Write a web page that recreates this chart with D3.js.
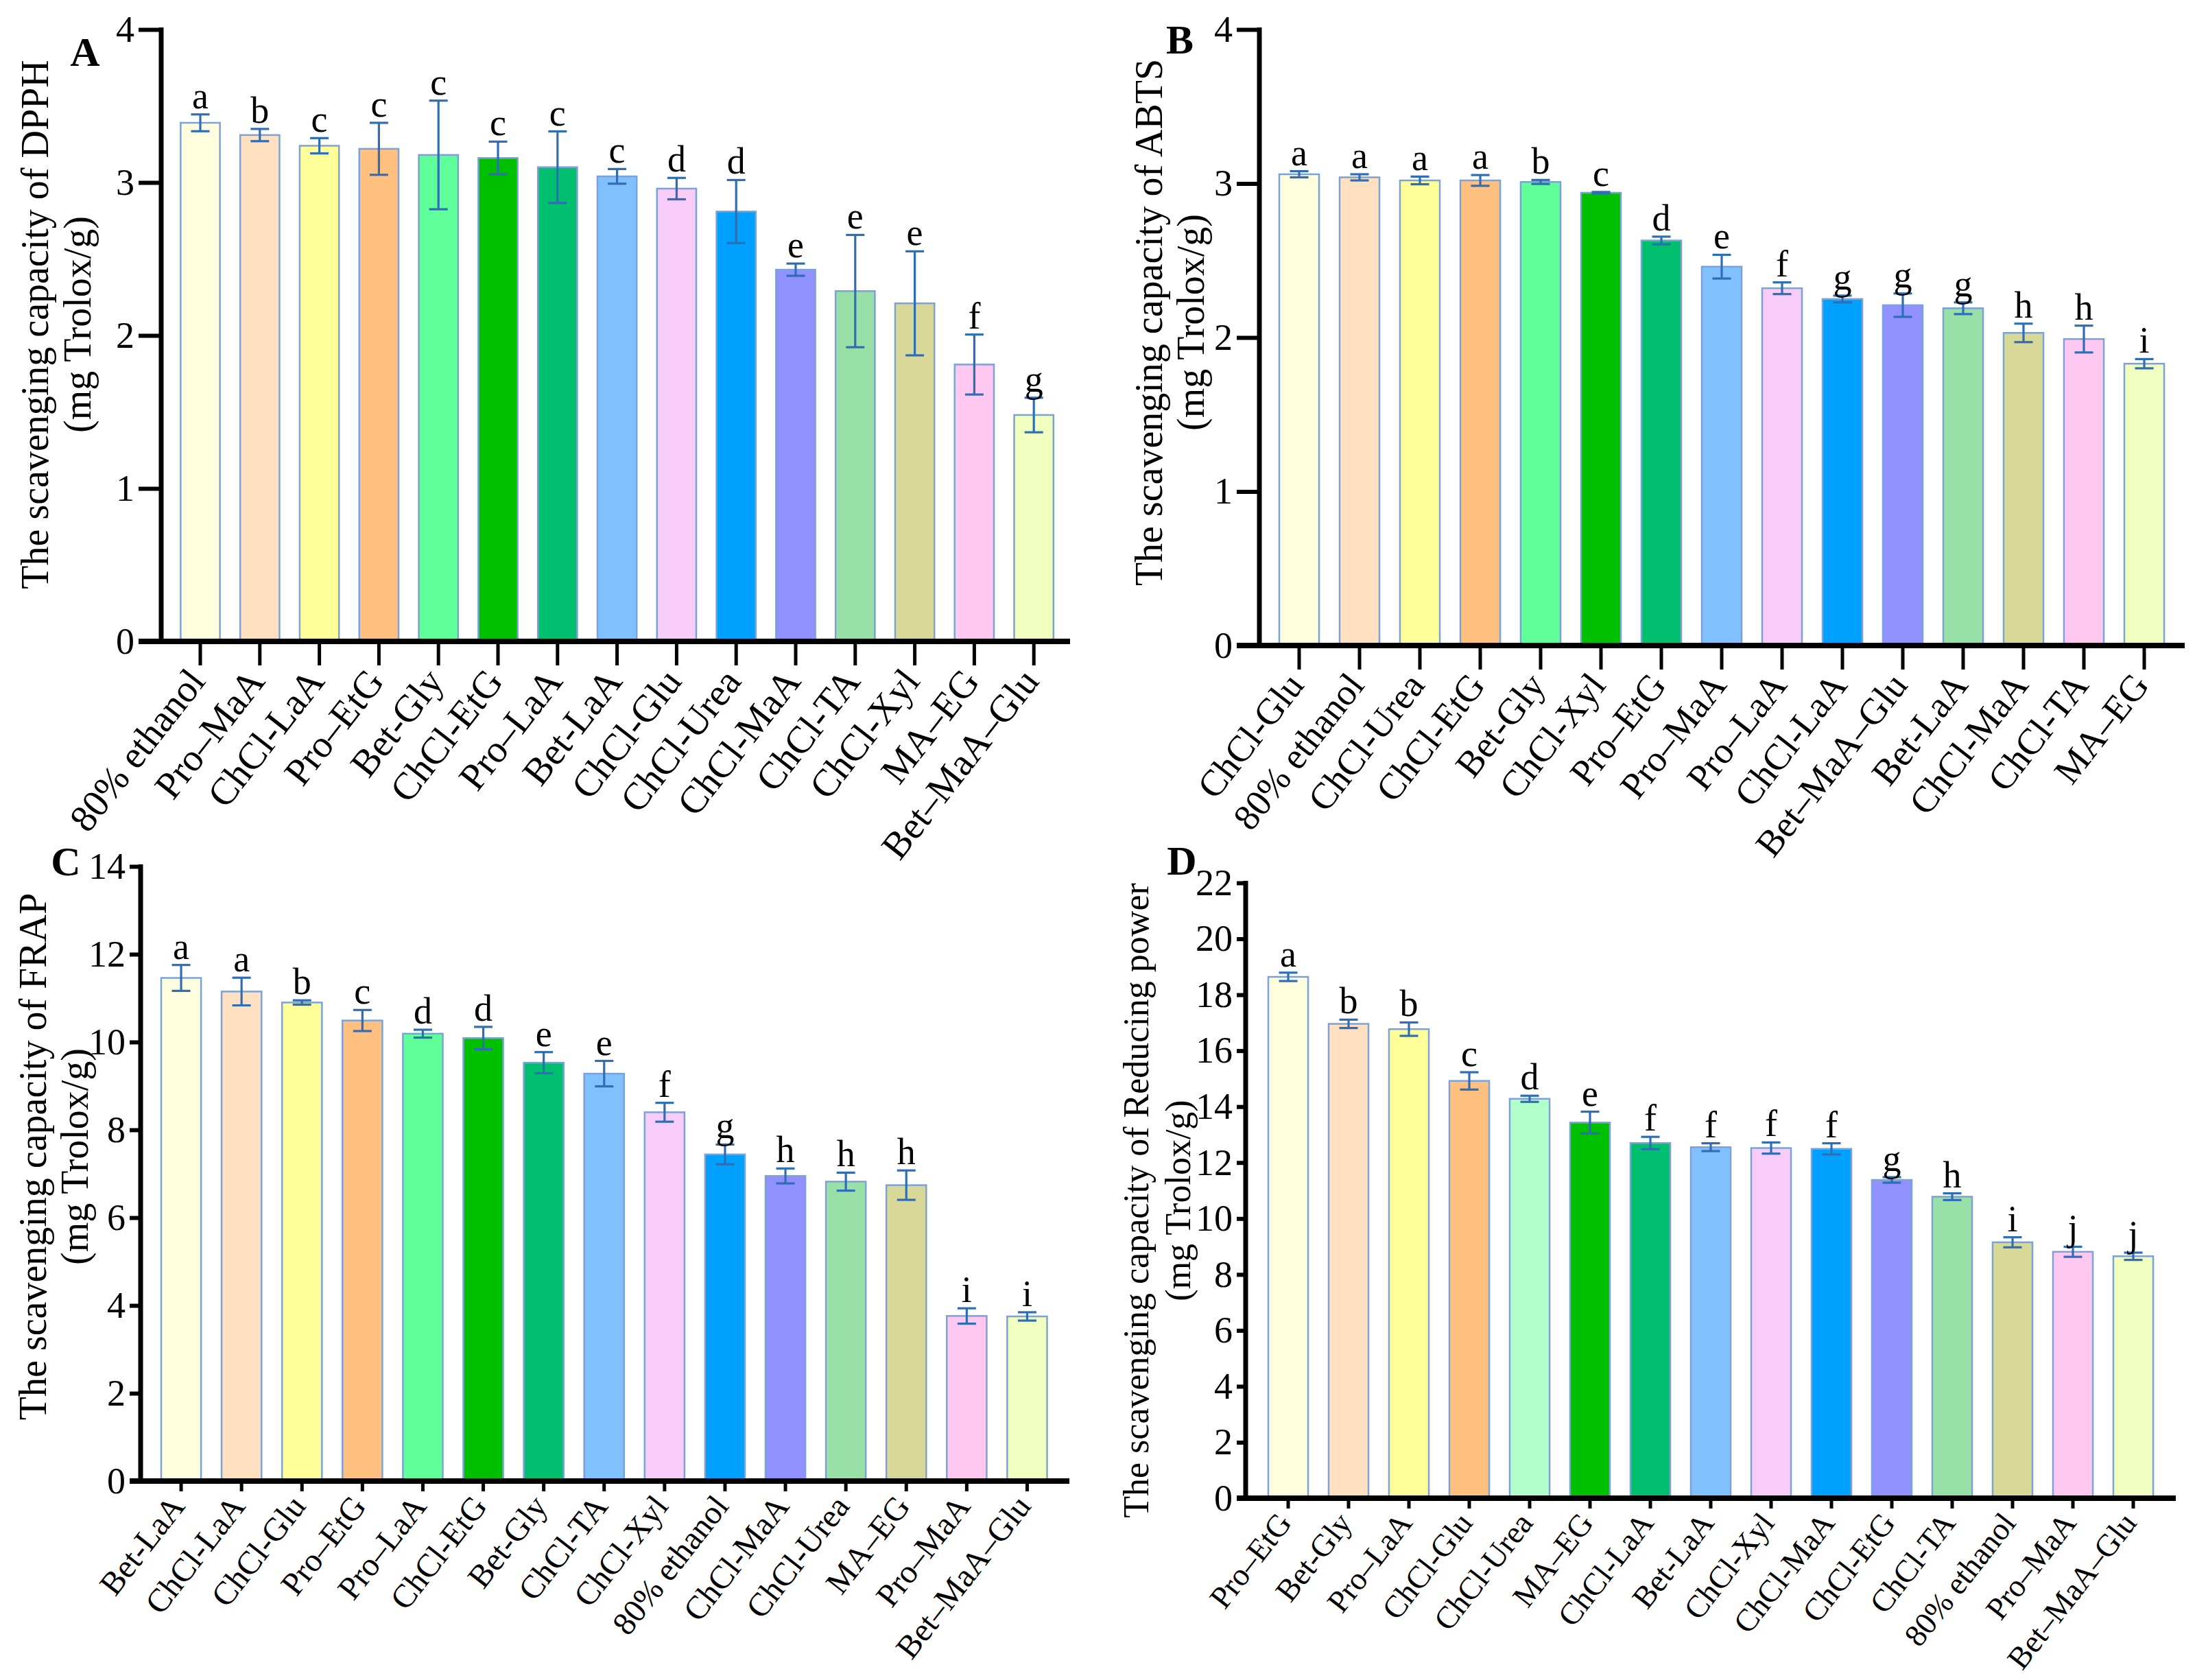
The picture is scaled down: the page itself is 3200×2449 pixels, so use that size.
<!DOCTYPE html>
<html>
<head>
<meta charset="utf-8">
<script src="https://cdn.jsdelivr.net/npm/d3@7/dist/d3.min.js"></script>
<style>
  body { margin: 0; background: #fff; }
  svg { display: block; }
  text { font-family: "Liberation Serif", "Times New Roman", serif; fill: #000; }
</style>
</head>
<body>
<svg id="chart" width="3200" height="2449" viewBox="0 0 3200 2449"></svg>
<script>
// ---- data ----
const catsA = ["80% ethanol", "Pro–MaA", "ChCl-LaA", "Pro–EtG", "Bet-Gly", "ChCl-EtG", "Pro–LaA", "Bet-LaA",
  "ChCl-Glu", "ChCl-Urea", "ChCl-MaA", "ChCl-TA", "ChCl-Xyl", "MA–EG", "Bet–MaA–Glu"];
const valsA = [3.39, 3.31, 3.24, 3.22, 3.18, 3.16, 3.10, 3.04, 2.96, 2.81, 2.43, 2.29, 2.21, 1.81, 1.48];
const errsA = [0.055, 0.04, 0.05, 0.17, 0.355, 0.107, 0.234, 0.048, 0.07, 0.206, 0.04, 0.367, 0.34, 0.196, 0.113];
const sigA = ["a", "b", "c", "c", "c", "c", "c", "c", "d", "d", "e", "e", "e", "f", "g"];
const ticksA = [0, 1, 2, 3, 4];

const catsB = ["ChCl-Glu", "80% ethanol", "ChCl-Urea", "ChCl-EtG", "Bet-Gly", "ChCl-Xyl", "Pro–EtG", "Pro–MaA",
  "Pro–LaA", "ChCl-LaA", "Bet–MaA–Glu", "Bet-LaA", "ChCl-MaA", "ChCl-TA", "MA–EG"];
const valsB = [3.06, 3.04, 3.02, 3.02, 3.01, 2.94, 2.63, 2.46, 2.32, 2.25, 2.21, 2.19, 2.03, 1.99, 1.83];
const errsB = [0.02, 0.02, 0.025, 0.035, 0.013, 0.005, 0.025, 0.077, 0.038, 0.022, 0.076, 0.038, 0.06, 0.087, 0.03];
const sigB = ["a", "a", "a", "a", "b", "c", "d", "e", "f", "g", "g", "g", "h", "h", "i"];
const ticksB = [0, 1, 2, 3, 4];

const catsC = ["Bet-LaA", "ChCl-LaA", "ChCl-Glu", "Pro–EtG", "Pro–LaA", "ChCl-EtG", "Bet-Gly", "ChCl-TA",
  "ChCl-Xyl", "80% ethanol", "ChCl-MaA", "ChCl-Urea", "MA–EG", "Pro–MaA", "Bet–MaA–Glu"];
const valsC = [11.46, 11.15, 10.90, 10.49, 10.19, 10.09, 9.53, 9.28, 8.40, 7.44, 6.95, 6.82, 6.74, 3.76, 3.75];
const errsC = [0.295, 0.315, 0.05, 0.24, 0.09, 0.255, 0.24, 0.29, 0.215, 0.225, 0.17, 0.205, 0.335, 0.175, 0.095];
const sigC = ["a", "a", "b", "c", "d", "d", "e", "e", "f", "g", "h", "h", "h", "i", "i"];
const ticksC = [0, 2, 4, 6, 8, 10, 12, 14];

const catsD = ["Pro–EtG", "Bet-Gly", "Pro–LaA", "ChCl-Glu", "ChCl-Urea", "MA–EG", "ChCl-LaA", "Bet-LaA",
  "ChCl-Xyl", "ChCl-MaA", "ChCl-EtG", "ChCl-TA", "80% ethanol", "Pro–MaA", "Bet–MaA–Glu"];
const valsD = [18.64, 16.96, 16.77, 14.92, 14.28, 13.43, 12.70, 12.55, 12.52, 12.49, 11.38, 10.78, 9.15, 8.81, 8.65];
const errsD = [0.15, 0.15, 0.24, 0.31, 0.11, 0.39, 0.22, 0.14, 0.2, 0.2, 0.1, 0.12, 0.18, 0.18, 0.13];
const sigD = ["a", "b", "b", "c", "d", "e", "f", "f", "f", "f", "g", "h", "i", "j", "j"];
const ticksD = [0, 2, 4, 6, 8, 10, 12, 14, 16, 18, 20, 22];

// bar colours go by position, not by solvent
const barColors = ["#FEFEDE", "#FFE0C0", "#FFFF99", "#FFC080", "#5FFF9A", "#00C000", "#00C070", "#80C0FF",
  "#F8CCF8", "#00A0FF", "#9090FF", "#98E0A8", "#D8D898", "#FFC8F0", "#F0FFC0"];
const barColorsD = barColors.map((c, i) => i === 4 ? "#B3FFCC" : c);

// ---- layout of the four panels ----
const panels = [
  { letter: "A", cats: catsA, vals: valsA, errs: errsA, sig: sigA, ticks: ticksA, colors: barColors,
    title: "The scavenging capacity of DPPH", titleSize: 56, catSize: 56,
    axisX: 235, top: 43, zero: 935, band: [248.6, 1550.6], xEnd: 1560,
    yTick: 33, xTick: 35, t1: 70, t2: 132, titleY: 473, lx: 124, ly: 96 },
  { letter: "B", cats: catsB, vals: valsB, errs: errsB, sig: sigB, ticks: ticksB, colors: barColors,
    title: "The scavenging capacity of ABTS", titleSize: 56, catSize: 54,
    axisX: 1836, top: 43, zero: 941, band: [1850, 3170], xEnd: 3185,
    yTick: 33, xTick: 35, t1: 1694, t2: 1755, titleY: 470, lx: 1720, ly: 78 },
  { letter: "C", cats: catsC, vals: valsC, errs: errsC, sig: sigC, ticks: ticksC, colors: barColors,
    title: "The scavenging capacity of FRAP", titleSize: 56, catSize: 48,
    axisX: 205, top: 1263, zero: 2159, band: [220, 1541.5], xEnd: 1559,
    yTick: 16, xTick: 15, t1: 67, t2: 128, titleY: 1686, lx: 96, ly: 1276 },
  { letter: "D", cats: catsD, vals: valsD, errs: errsD, sig: sigD, ticks: ticksD, colors: barColorsD,
    title: "The scavenging capacity of Reducing power", titleSize: 52, catSize: 46,
    axisX: 1816, top: 1287, zero: 2184, band: [1834, 3154], xEnd: 3172,
    yTick: 13, xTick: 15, t1: 1674, t2: 1735, titleY: 1750, lx: 1723, ly: 1275 }
];

const svg = d3.select("#chart");
svg.append("rect").attr("width", 3200).attr("height", 2449).attr("fill", "#fff");

const errColor = "#2F6EB5";
const labelAngle = 52;

panels.forEach(p => {
  const g = svg.append("g");
  const yMax = p.ticks[p.ticks.length - 1];

  const x = d3.scaleBand()
    .domain(p.cats)
    .range(p.band)
    .paddingInner(0.34)
    .paddingOuter(0.17);

  const y = d3.scaleLinear()
    .domain([0, yMax])
    .range([p.zero, p.top]);

  // Bars
  g.selectAll(".bar")
    .data(p.cats)
    .enter()
    .append("rect")
    .attr("x", d => x(d))
    .attr("width", x.bandwidth())
    .attr("y", (d, i) => y(p.vals[i]))
    .attr("height", (d, i) => p.zero - y(p.vals[i]))
    .attr("fill", (d, i) => p.colors[i])
    .attr("stroke", "#7DA2D6")
    .attr("stroke-width", 2.5);

  // Error bars (mean ± SD)
  const capW = 13.5;
  const eb = g.selectAll(".err")
    .data(p.cats)
    .enter()
    .append("g")
    .attr("stroke", errColor)
    .attr("stroke-width", 3.2)
    .attr("fill", "none");
  eb.append("line")
    .attr("x1", d => x(d) + x.bandwidth() / 2)
    .attr("x2", d => x(d) + x.bandwidth() / 2)
    .attr("y1", (d, i) => y(p.vals[i] + p.errs[i]))
    .attr("y2", (d, i) => y(p.vals[i] - p.errs[i]));
  [1, -1].forEach(sgn => {
    eb.append("line")
      .attr("x1", d => x(d) + x.bandwidth() / 2 - capW)
      .attr("x2", d => x(d) + x.bandwidth() / 2 + capW)
      .attr("y1", (d, i) => y(p.vals[i] + sgn * p.errs[i]))
      .attr("y2", (d, i) => y(p.vals[i] + sgn * p.errs[i]));
  });

  // Significance letters
  g.selectAll(".sig")
    .data(p.cats)
    .enter()
    .append("text")
    .attr("x", d => x(d) + x.bandwidth() / 2)
    .attr("y", (d, i) => y(p.vals[i] + p.errs[i]) - 9)
    .attr("text-anchor", "middle")
    .attr("font-size", 54)
    .text((d, i) => p.sig[i]);

  // Y axis
  const yAxis = g.append("g")
    .attr("transform", `translate(${p.axisX},0)`)
    .call(d3.axisLeft(y).tickValues(p.ticks).tickFormat(d3.format("d"))
      .tickSize(p.yTick).tickSizeOuter(0).tickPadding(6));
  yAxis.select(".domain").remove();
  yAxis.selectAll(".tick line").attr("stroke", "#000").attr("stroke-width", 6);
  yAxis.selectAll(".tick text")
    .attr("font-size", 54)
    .attr("font-family", "Liberation Serif, serif")
    .attr("fill", "#000");
  g.append("line")
    .attr("x1", p.axisX).attr("x2", p.axisX)
    .attr("y1", p.top - 3).attr("y2", p.zero)
    .attr("stroke", "#000").attr("stroke-width", 7);

  // X axis
  const xAxis = g.append("g")
    .attr("transform", `translate(0,${p.zero})`)
    .call(d3.axisBottom(x).tickSize(p.xTick).tickSizeOuter(0).tickFormat(""));
  xAxis.select(".domain").remove();
  xAxis.selectAll(".tick line").attr("stroke", "#000").attr("stroke-width", 5);
  g.append("line")
    .attr("x1", p.axisX - p.yTick).attr("x2", p.xEnd)
    .attr("y1", p.zero).attr("y2", p.zero)
    .attr("stroke", "#000").attr("stroke-width", 8);

  // Rotated category labels
  g.selectAll(".cat")
    .data(p.cats)
    .enter()
    .append("text")
    .attr("transform", d => `translate(${x(d) + x.bandwidth() / 2 - 6},${p.zero + p.xTick + 12}) rotate(${-labelAngle})`)
    .attr("text-anchor", "end")
    .attr("dy", "0.35em")
    .attr("font-size", p.catSize)
    .text(d => d);

  // Y title, two lines
  g.append("text")
    .attr("transform", `translate(${p.t1},${p.titleY}) rotate(-90)`)
    .attr("text-anchor", "middle")
    .attr("font-size", p.titleSize)
    .text(p.title);
  g.append("text")
    .attr("transform", `translate(${p.t2},${p.titleY}) rotate(-90)`)
    .attr("text-anchor", "middle")
    .attr("font-size", p.titleSize)
    .text("(mg Trolox/g)");

  // Panel letter
  g.append("text")
    .attr("x", p.lx)
    .attr("y", p.ly)
    .attr("text-anchor", "middle")
    .attr("font-size", 60)
    .attr("font-weight", "bold")
    .text(p.letter);
});
</script>
</body>
</html>
